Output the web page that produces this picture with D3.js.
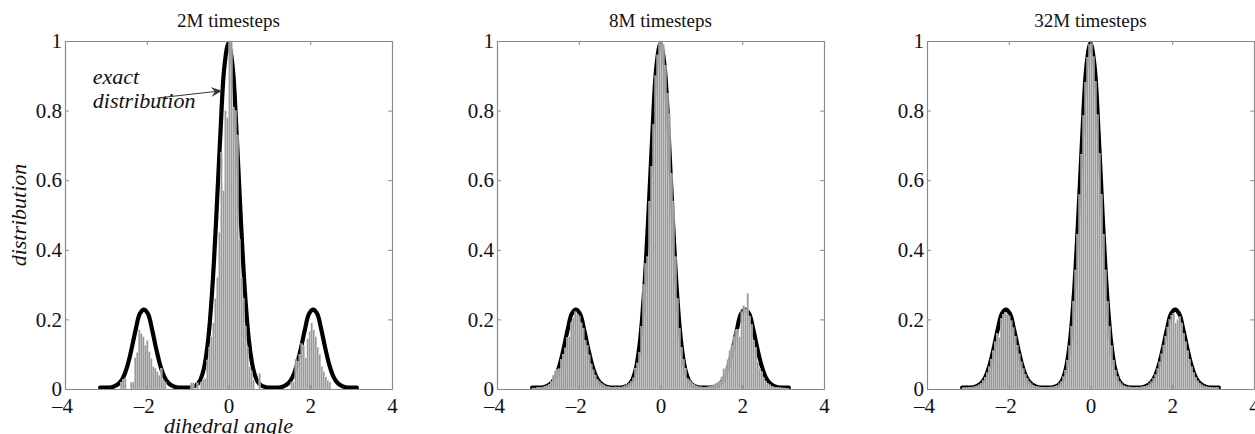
<!DOCTYPE html>
<html>
<head>
<meta charset="utf-8">
<script src="https://cdn.jsdelivr.net/npm/d3@7"></script>
<style>
  body { margin: 0; background: #fff; }
  svg { display: block; }
  text { font-family: "Liberation Serif", "DejaVu Serif", serif; fill: #111; }
</style>
</head>
<body>
<svg id="fig" width="1255" height="434"></svg>
<script>

var panelTitles = ["2M timesteps", "8M timesteps", "32M timesteps"];
var xTicks = [-4, -2, 0, 2, 4];
var yTicks = [0, 0.2, 0.4, 0.6, 0.8, 1];
var yTickLabels = ["0", "0.2", "0.4", "0.6", "0.8", "1"];

// histogram bins: 128 equal bins on [-pi, pi]
var binLo = -3.1416, binHi = 3.1416, binCount = 128;

// exact distribution
var exactX = [-3.14,-2.97,-2.87,-2.77,-2.67,-2.57,-2.47,-2.37,-2.27,-2.17,-2.07,-1.97,-1.87,-1.77,-1.67,-1.57,-1.47,-1.37,-1.27,-1.17,
              -1.0,-0.9,-0.8,-0.7,-0.6,-0.5,-0.4,-0.3,-0.2,-0.1,0,0.1,0.2,0.3,0.4,0.5,0.6,0.7,0.8,0.9,1.0,
              1.17,1.27,1.37,1.47,1.57,1.67,1.77,1.87,1.97,2.07,2.17,2.27,2.37,2.47,2.57,2.67,2.77,2.87,2.97,3.14];
var exactY = [0.004,0.004,0.005,0.009,0.017,0.035,0.068,0.116,0.171,0.216,0.228,0.216,0.171,0.116,0.068,0.035,0.017,0.009,0.005,0.004,
              0.004,0.006,0.010,0.024,0.060,0.139,0.282,0.491,0.730,0.927,0.995,0.927,0.730,0.491,0.282,0.139,0.060,0.024,0.010,0.006,0.004,
              0.004,0.005,0.009,0.017,0.035,0.068,0.116,0.171,0.216,0.228,0.216,0.171,0.116,0.068,0.035,0.017,0.009,0.005,0.004,0.004];

var hist2M = [
  0,0,0,0,0,0,0,0,0,0,
  0.020,0.028,0.030,0,0,0.020,0.020,0.090,0.105,0.170,
  0.160,0.150,0.126,0.140,0.107,0.088,0.064,0.060,0.050,0.040,
  0.060,0.026,0.020,0,0,0,0,0,0,0,
  0,0,0,0,0,0.018,0.018,0,0.018,0,
  0.020,0.028,0.030,0.083,0.120,0.150,0.190,0.260,0.320,0.450,
  0.680,0.570,0.800,0.780,1.000,1.000,0.810,0.800,0.730,0.430,
  0.320,0.260,0.180,0.120,0.064,0.050,0.026,0,0,0.045,
  0,0,0,0,0,0,0,0,0,0,
  0,0,0,0,0,0.020,0.020,0.086,0.080,0.100,
  0.130,0.125,0.090,0.145,0.165,0.190,0.170,0.150,0.120,0.100,
  0.065,0.050,0.035,0.025,0.020,0,0,0,0,0,
  0,0,0,0,0,0,0,0];

var hist8M = [
  0.003,0.002,0.004,0.005,0.004,0.006,0.008,0.010,0.014,0.022,
  0.040,0.052,0.056,0.058,0.085,0.100,0.118,0.148,0.150,0.190,
  0.205,0.222,0.215,0.210,0.190,0.175,0.140,0.125,0.098,0.072,
  0.055,0.040,0.028,0.022,0.016,0.012,0.009,0.007,0.006,0.005,
  0.005,0.006,0.005,0.006,0.005,0.007,0.009,0.012,0.016,0.022,
  0.032,0.060,0.075,0.105,0.180,0.300,0.360,0.380,0.540,0.640,
  0.760,0.900,0.960,1.000,1.000,0.990,0.930,0.850,0.790,0.620,
  0.540,0.380,0.260,0.175,0.120,0.085,0.060,0.030,0.026,0.020,
  0.014,0.010,0.008,0.006,0.006,0.005,0.005,0.006,0.007,0.008,
  0.012,0.016,0.020,0.022,0.035,0.058,0.062,0.085,0.110,0.125,
  0.150,0.170,0.172,0.150,0.222,0.240,0.230,0.275,0.210,0.185,
  0.140,0.120,0.080,0.060,0.050,0.032,0.022,0.016,0.012,0.008,
  0.006,0.005,0.004,0.004,0.003,0.003,0.002,0.002];

var hist32M = [
  0.004,0.004,0.004,0.005,0.005,0.006,0.007,0.009,0.012,0.017,
  0.024,0.034,0.047,0.064,0.086,0.110,0.136,0.160,0.148,0.203,
  0.215,0.221,0.214,0.210,0.196,0.176,0.152,0.126,0.101,0.078,
  0.058,0.042,0.030,0.021,0.015,0.011,0.008,0.007,0.006,0.005,
  0.005,0.005,0.005,0.005,0.006,0.006,0.008,0.010,0.015,0.022,
  0.035,0.054,0.083,0.124,0.180,0.252,0.342,0.445,0.558,0.675,
  0.786,0.882,0.953,0.990,0.992,0.955,0.884,0.788,0.677,0.560,
  0.445,0.342,0.252,0.180,0.124,0.083,0.054,0.035,0.022,0.015,
  0.010,0.008,0.006,0.006,0.005,0.005,0.005,0.005,0.005,0.006,
  0.007,0.008,0.011,0.015,0.021,0.030,0.042,0.058,0.078,0.101,
  0.126,0.152,0.178,0.199,0.212,0.218,0.190,0.200,0.208,0.190,
  0.160,0.136,0.110,0.086,0.064,0.047,0.034,0.024,0.017,0.012,
  0.009,0.007,0.006,0.005,0.005,0.004,0.004,0.004];

var histograms = [hist2M, hist8M, hist32M];

// layout
var panelLeft = [65, 497, 927];
var panelWidth = 327;
var panelTop = 41, panelBottom = 389;

var svg = d3.select("#fig");

function dash_minus(v){
    return v < 0 ? "\u2013" + Math.abs(v) : String(v);
}

function add_panel( idx ){
    var x0 = panelLeft[idx];
    var xScale = d3.scaleLinear().domain([-4, 4]).range([x0, x0 + panelWidth]);
    var yScale = d3.scaleLinear().domain([0, 1]).range([panelBottom, panelTop]);
    var g = svg.append("g");

    // exact distribution (drawn under the bars)
    var pts = exactX.map(function(d, i){ return [d, exactY[i]]; });
    g.append("path")
        .datum(pts)
        .attr("fill", "none")
        .attr("stroke", "#000")
        .attr("stroke-width", 4.2)
        .attr("stroke-linejoin", "round")
        .attr("stroke-linecap", "round")
        .attr("d", d3.line()
            .curve(d3.curveCatmullRom)
            .x(function(d){ return xScale(d[0]); })
            .y(function(d){ return yScale(d[1]); }));

    // histogram bars
    var bw = (binHi - binLo) / binCount;
    var bins = histograms[idx].map(function(v, i){ return {lo: binLo + i*bw, hi: binLo + (i+1)*bw, v: v}; })
                              .filter(function(b){ return b.v > 0; });
    g.selectAll("rect.bar")
        .data(bins)
        .enter().append("rect")
        .attr("class", "bar")
        .attr("x", function(b){ return xScale(b.lo); })
        .attr("width", function(b){ return xScale(b.hi) - xScale(b.lo); })
        .attr("y", function(b){ return yScale(b.v); })
        .attr("height", function(b){ return yScale(0) - yScale(b.v); })
        .attr("fill", "#999999")
        .attr("stroke", "#e8e8e8")
        .attr("stroke-width", 0.3);

    // axes, ticks pointing inward
    var ax = g.append("g").attr("class", "axes");
    ax.append("g")
        .attr("transform", "translate(0," + panelBottom + ")")
        .call(d3.axisBottom(xScale).tickValues(xTicks).tickSizeInner(-4).tickSizeOuter(0).tickPadding(9).tickFormat(dash_minus));
    ax.append("g")
        .attr("transform", "translate(0," + panelTop + ")")
        .call(d3.axisTop(xScale).tickValues(xTicks).tickSizeInner(-4).tickSizeOuter(0).tickFormat(""));
    ax.append("g")
        .attr("transform", "translate(" + x0 + ",0)")
        .call(d3.axisLeft(yScale).tickValues(yTicks).tickSizeInner(-4).tickSizeOuter(0).tickPadding(3)
              .tickFormat(function(d, i){ return yTickLabels[i]; }));
    ax.append("g")
        .attr("transform", "translate(" + (x0 + panelWidth) + ",0)")
        .call(d3.axisRight(yScale).tickValues(yTicks).tickSizeInner(-4).tickSizeOuter(0).tickFormat(""));

    ax.selectAll(".domain").attr("stroke", "#8a8a8a").attr("stroke-width", 1.2);
    ax.selectAll(".tick line").attr("stroke", "#8a8a8a");
    ax.selectAll(".tick text")
        .attr("font-size", 21)
        .attr("fill", "#111");
    // negative labels hang a little left, as in the original
    ax.selectAll(".tick text")
        .filter(function(d){ return typeof d === "number" && d < 0 && this.textContent.length > 1; })
        .attr("dx", -3);

    // title
    g.append("text")
        .attr("x", x0 + panelWidth/2)
        .attr("y", 27)
        .attr("text-anchor", "middle")
        .attr("font-size", 19)
        .text(panelTitles[idx]);

    return {x: xScale, y: yScale};
}

var scales = [0, 1, 2].map(add_panel);

// axis labels (first panel only)
var s0 = scales[0];
svg.append("text")
    .attr("x", (s0.x(-4) + s0.x(4)) / 2)
    .attr("y", 433)
    .attr("text-anchor", "middle")
    .attr("font-size", 22)
    .attr("font-style", "italic")
    .text("dihedral angle");

svg.append("text")
    .attr("transform", "translate(26," + ((panelTop + panelBottom)/2) + ") rotate(-90)")
    .attr("text-anchor", "middle")
    .attr("font-size", 22)
    .attr("font-style", "italic")
    .text("distribution");

// annotation with arrow
svg.append("defs").append("marker")
    .attr("id", "arrowhead")
    .attr("viewBox", "0 0 12 10")
    .attr("refX", 11).attr("refY", 5)
    .attr("markerWidth", 12).attr("markerHeight", 10)
    .attr("markerUnits", "userSpaceOnUse")
    .attr("orient", "auto")
    .append("path")
    .attr("d", "M0,0 L11,5 L0,10 L4,5 Z")
    .attr("fill", "#333");

svg.append("line")
    .attr("x1", s0.x(-1.75)).attr("y1", s0.y(0.836))
    .attr("x2", s0.x(-0.16)).attr("y2", s0.y(0.857))
    .attr("stroke", "#333")
    .attr("stroke-width", 1)
    .attr("marker-end", "url(#arrowhead)");

var ann = svg.append("g").attr("font-size", 22).attr("font-style", "italic");
ann.append("text").attr("x", s0.x(-3.32)).attr("y", s0.y(0.876)).text("exact");
ann.append("text").attr("x", s0.x(-3.32)).attr("y", s0.y(0.807)).text("distribution");

</script>
</body>
</html>
